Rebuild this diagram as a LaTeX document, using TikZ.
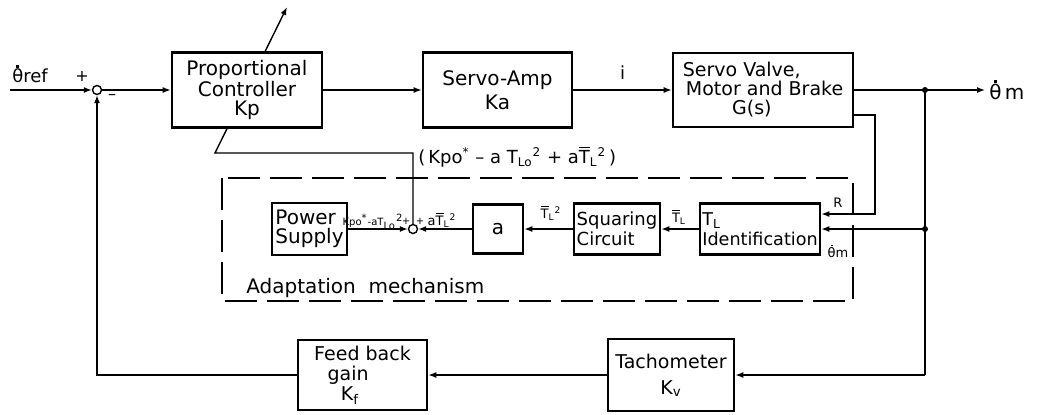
\documentclass[tikz,border=0pt]{standalone}
\usepackage{fontspec}
\setmainfont{DejaVu Sans}
\usetikzlibrary{arrows.meta}
\newcommand{\thd}{\leavevmode\rlap{\hbox to 0.6em{\hss\raisebox{0.84em}{\rule{0.14em}{0.14em}}\hss}}θ}
\newcommand{\That}{\ensuremath{\overline{\hbox{T}}}}
\begin{document}
\begin{tikzpicture}[x=0.5pt,y=-0.5pt,
  blk/.style={draw,line width=1.3pt,fill=white,inner sep=1pt,align=center,font=\fontsize{10}{9.5}\selectfont},
  conn/.style={line width=0.7pt},
  arr/.style={conn,-{Latex[length=4pt,width=3pt]}},
  sumc/.style={draw,circle,line width=0.7pt,minimum size=4.5pt,inner sep=0pt,fill=white},
  lbl/.style={inner sep=0pt,font=\fontsize{9}{9}\selectfont},
  sml/.style={inner sep=0pt,font=\fontsize{6.5}{6.5}\selectfont},
  tny/.style={inner sep=0pt,font=\fontsize{5}{5}\selectfont},
  dot/.style={circle,fill,inner sep=0pt,minimum size=3pt}
]
\useasboundingbox (0,0) rectangle (1039,414);
% dashed adaptation box
\draw[conn,dash pattern=on 16pt off 5pt] (222,178) rectangle (853,301);
\node[lbl,anchor=west,font=\fontsize{10}{10}\selectfont] (adl) at (246,288) {Adaptation\ \ mechanism};
% summing junctions
\node[sumc] (s1) at (97,90) {};
\node[sumc] (s2) at (413,229) {};
% adjustment line (drawn beneath controller box)
\coordinate (v1) at (413,153);
\coordinate (v2) at (215,153);
\coordinate (tip) at (287,7);
\draw[arr] (s2) -- (v1) -- (v2) -- (tip);
% main blocks
\node[blk,minimum width=75pt,minimum height=37.5pt] (pc) at (247,90) {Proportional\\Controller\\Kp};
\node[blk,minimum width=74.5pt,minimum height=37.5pt,font=\fontsize{10}{12}\selectfont] (sa) at (497.5,90) {Servo-Amp\\Ka};
\node[blk,minimum width=90pt,minimum height=37pt,align=left,font=\fontsize{9.5}{9.5}\selectfont] (sv) at (763,90) {Servo Valve,\\\,Motor and Brake\\\hspace{2.6em}G(s)};
\node[blk,minimum width=63pt,minimum height=36pt,font=\fontsize{9.5}{13}\selectfont] (ta) at (671,375) {Tachometer\\K\textsubscript{v}};
\node[blk,minimum width=64.5pt,minimum height=35pt,align=left,font=\fontsize{9.5}{10}\selectfont] (fb) at (362.5,375) {Feed back\\\hspace{0.7em}gain\\\hspace{1.4em}K\textsubscript{f}};
% adaptation blocks
\node[blk,minimum width=37.5pt,minimum height=26pt,align=left] (ps) at (309.5,229) {Power\\Supply};
\node[blk,minimum width=25pt,minimum height=24.5pt] (ab) at (498,229) {a};
\node[blk,minimum width=43pt,minimum height=25.5pt,align=left,font=\fontsize{9}{10}\selectfont] (sq) at (617,229) {Squaring\\Circuit};
\node[blk,minimum width=60pt,minimum height=25.5pt,align=left,font=\fontsize{8.8}{10}\selectfont] (ti) at (760,229) {T\textsubscript{L}\\Identification};
% coordinates
\coordinate (in) at (10,90);
\coordinate (j1) at (925,90);
\coordinate (oute) at (985,90);
\coordinate (j2) at (925,229);
\coordinate (b1) at (925,375);
\coordinate (b2) at (97,375);
\coordinate (c0) at (853,115);
\coordinate (c1) at (875,115);
\coordinate (c2) at (875,214);
% forward path
\draw[arr] (in) -- (s1);
\draw[arr] (s1) -- (pc);
\draw[arr] (pc) -- (sa);
\draw[arr] (sa) -- node[lbl,above=5pt] (il) {i} (sv);
\draw[arr] (sv) -- (oute);
\node[dot] (jd1) at (j1) {};
% feedback path
\draw[conn] (j1) -- (b1);
\draw[arr] (b1) -- (ta);
\draw[arr] (ta) -- (fb);
\draw[arr] (fb) -- (b2) -- (s1);
% adaptation connections
\draw[arr] (c0) -- (c1) -- (c2) -- (ti.east |- c2);
\node[dot] (jd2) at (j2) {};
\draw[arr] (j2) -- (ti.east |- j2);
\draw[arr] (ti) -- (sq);
\draw[arr] (sq) -- (ab);
\draw[arr] (ab) -- (s2);
\draw[arr] (ps) -- (s2);
% labels
\node[lbl] (lref) at (30,74) {\thd ref};
\node[sml,font=\fontsize{8}{8}\selectfont] (lp) at (82,76) {+};
\node[sml,font=\fontsize{8}{8}\selectfont] (lm) at (112,97) {–};
\node[lbl,anchor=west,font=\fontsize{10}{10}\selectfont] (lout) at (989,90) {\thd\,m};
\node[lbl,anchor=west] (lkp) at (418,157) {(\,Kpo\textsuperscript{*} – a T\textsubscript{Lo}\textsuperscript{2} + a\That\textsubscript{L}\textsuperscript{2}\,)};
\node[sml] (lt1) at (679,217) {\That\textsubscript{L}};
\node[sml] (lt2) at (551,213) {\That\textsubscript{L}\textsuperscript{2}};
\node[sml] (lt3) at (442,220) {a\That\textsubscript{L}\textsuperscript{2}};
\node[tny] (lk) at (373,222) {Kpo\textsuperscript{*}-aT\textsubscript{Lo}\textsuperscript{2}};
\node[tny] (lpa) at (406,221) {+};
\node[tny] (lpb) at (420,221) {+};
\node[sml] (lr) at (838,203) {R};
\node[sml] (lm2) at (838,251) {\thd m};
\end{tikzpicture}
\end{document}
